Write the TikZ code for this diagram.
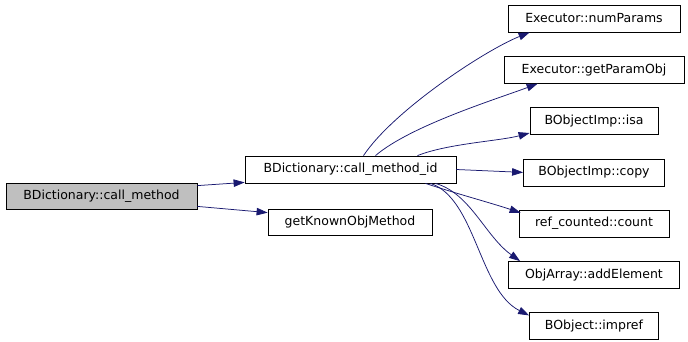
\documentclass[tikz,border=0pt]{standalone}
\usepackage{fontspec}
\setmainfont{DejaVu Sans}
\usetikzlibrary{arrows.meta,positioning}
\definecolor{edgeblue}{HTML}{191970}
\definecolor{curgray}{HTML}{BFBFBF}
\tikzset{
  fnbox/.style={
    rectangle, draw=black, fill=white, line width=0.8pt,
    minimum width=#1, minimum height=27pt,
    font=\fontsize{12.5}{14}\selectfont, inner sep=2pt
  },
  fnbox/.default=150pt,
  curbox/.style={fnbox=#1, fill=curgray},
  callarrow/.style={
    draw=edgeblue, line width=0.75pt,
    -{Triangle[length=11pt, width=7.5pt]}
  },
}
\begin{document}
\begin{tikzpicture}[x=1pt, y=-1pt]
\useasboundingbox (0,0) rectangle (688,341);

% caller and direct callees
\node[curbox=191pt, minimum height=26pt] (callm) at (101.5,196) {BDictionary::call\_method};
\node[fnbox=211pt] (callid) at (350.5,169.5) {BDictionary::call\_method\_id};
\node[fnbox=164pt, minimum height=26pt] (getknown) at (350,222) {getKnownObjMethod};

% callees of call_method_id
\node[fnbox=172pt] (numparams) at (594,18.5) {Executor::numParams};
\node[fnbox=180pt, below=23.5pt of numparams] (getparam) {Executor::getParamObj};
\node[fnbox=128pt, below=23.5pt of getparam] (isa) {BObjectImp::isa};
\node[fnbox=141pt, below=23.5pt of isa] (copy) {BObjectImp::copy};
\node[fnbox=150pt, below=23.5pt of copy] (count) {ref\_counted::count};
\node[fnbox=171pt, below=23.5pt of count] (addel) {ObjArray::addElement};
\node[fnbox=129pt, below=23.5pt of addel] (impref) {BObject::impref};

% calls from call_method
\draw[callarrow] ([yshift=-3pt]callm.north east) -- ([yshift=1pt]callid.south west);
\draw[callarrow] ([yshift=3pt]callm.south east) -- ([yshift=-4pt]getknown.north west);

% calls from call_method_id
\draw[callarrow] ([xshift=13pt]callid.north) .. controls +(30,-45) and +(-45,18) .. ([xshift=22pt]numparams.south west);
\draw[callarrow] ([xshift=25pt]callid.north) .. controls +(35,-30) and +(-40,15) .. ([xshift=34pt]getparam.south west);
\draw[callarrow] ([xshift=67pt]callid.north) .. controls +(30,-12) and +(-30,8) .. ([yshift=2pt]isa.south west);
\draw[callarrow] (callid.east) -- (copy.west);
\draw[callarrow] ([xshift=75pt]callid.south) .. controls +(30,10) and +(-30,-10) .. ([shift={(2pt,-3pt)}]count.north west);
\draw[callarrow] ([xshift=85pt]callid.south) .. controls +(35,10) and +(-35,-25) .. ([xshift=12pt]addel.north west);
\draw[callarrow] ([xshift=80pt]callid.south) .. controls +(45,15) and +(-50,-25) .. ([yshift=-3pt]impref.north west);

\end{tikzpicture}
\end{document}
